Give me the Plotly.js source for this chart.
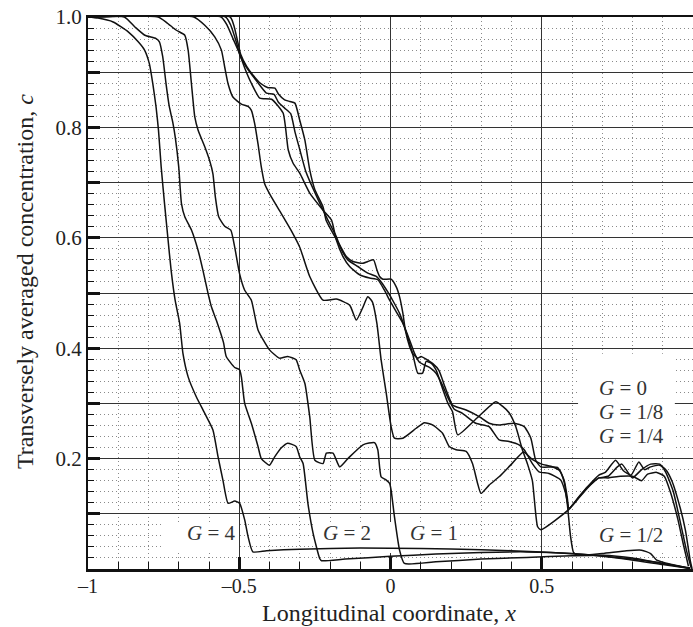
<!DOCTYPE html>
<html>
<head>
<meta charset="utf-8">
<script src="https://cdn.plot.ly/plotly-3.0.1.min.js"></script>
<style>html,body{margin:0;padding:0;background:#fff;}#chart{width:693px;height:627px;}</style>
</head>
<body>
<div id="chart"></div>
<script>
// ---- data ----
const xTickVals = [-1, -0.5, 0, 0.5];
const xTickText = ['\u20131', '\u20130.5', '0', '0.5'];
const yTickVals = [0, 0.1, 0.2, 0.3, 0.4, 0.5, 0.6, 0.7, 0.8, 0.9, 1.0];
const yTickText = ['', '', '0.2', '', '0.4', '', '0.6', '', '0.8', '', '1.0'];

const g4_x = [-1, -0.967, -0.917, -0.867, -0.834, -0.813, -0.797, -0.786, -0.775, -0.767, -0.758, -0.747, -0.736, -0.725, -0.712, -0.697, -0.686, -0.669, -0.642, -0.614, -0.587, -0.570, -0.554, -0.537, -0.515, -0.499, -0.482, -0.471, -0.455, -0.41, -0.3, -0.1, 0.1, 0.3, 0.5, 0.65, 0.8, 0.9, 0.99];
const g4_y = [1.0, 0.998, 0.991, 0.973, 0.955, 0.94, 0.915, 0.88, 0.837, 0.795, 0.728, 0.662, 0.60, 0.54, 0.487, 0.445, 0.39, 0.348, 0.312, 0.282, 0.252, 0.203, 0.161, 0.119, 0.123, 0.119, 0.089, 0.059, 0.031, 0.033, 0.036, 0.038, 0.037, 0.035, 0.031, 0.026, 0.018, 0.01, 0.002];

const g2_x = [-1, -0.88, -0.845, -0.812, -0.775, -0.764, -0.753, -0.742, -0.731, -0.72, -0.711, -0.70, -0.691, -0.68, -0.658, -0.636, -0.62, -0.603, -0.592, -0.576, -0.552, -0.543, -0.515, -0.499, -0.493, -0.482, -0.46, -0.438, -0.427, -0.40, -0.383, -0.36, -0.34, -0.312, -0.30, -0.289, -0.273, -0.256, -0.234, -0.228, -0.15, 0, 0.15, 0.3, 0.45, 0.6, 0.75, 0.9, 0.99];
const g2_y = [1, 1, 0.982, 0.967, 0.961, 0.955, 0.928, 0.879, 0.837, 0.81, 0.78, 0.728, 0.662, 0.638, 0.614, 0.577, 0.541, 0.499, 0.475, 0.451, 0.41, 0.385, 0.365, 0.361, 0.348, 0.30, 0.264, 0.222, 0.20, 0.188, 0.203, 0.22, 0.228, 0.222, 0.203, 0.191, 0.119, 0.065, 0.019, 0.015, 0.018, 0.023, 0.027, 0.03, 0.031, 0.028, 0.02, 0.008, 0.001];

const g1_x = [-1, -0.768, -0.74, -0.708, -0.68, -0.669, -0.658, -0.647, -0.636, -0.614, -0.598, -0.587, -0.579, -0.568, -0.548, -0.528, -0.515, -0.499, -0.482, -0.46, -0.438, -0.40, -0.367, -0.34, -0.312, -0.30, -0.283, -0.267, -0.25, -0.223, -0.212, -0.19, -0.168, -0.141, -0.091, -0.053, -0.042, -0.031, -0.014, -0.003, 0.002, 0.013, 0.03, 0.046, 0.15, 0.3, 0.45, 0.6, 0.7, 0.8, 0.9, 0.99];
const g1_y = [1, 1, 0.99, 0.976, 0.967, 0.94, 0.879, 0.819, 0.795, 0.765, 0.74, 0.716, 0.674, 0.638, 0.621, 0.614, 0.583, 0.535, 0.505, 0.487, 0.433, 0.397, 0.382, 0.385, 0.379, 0.36, 0.336, 0.276, 0.197, 0.191, 0.21, 0.21, 0.185, 0.20, 0.225, 0.229, 0.216, 0.167, 0.161, 0.155, 0.143, 0.095, 0.034, 0.01, 0.013, 0.018, 0.021, 0.024, 0.025, 0.02, 0.01, 0.001];

const gHalf_x = [-1, -0.65, -0.614, -0.581, -0.559, -0.548, -0.537, -0.521, -0.493, -0.471, -0.46, -0.449, -0.438, -0.427, -0.416, -0.394, -0.361, -0.329, -0.30, -0.267, -0.223, -0.179, -0.135, -0.113, -0.093, -0.075, -0.06, -0.045, -0.031, -0.014, 0.002, 0.013, 0.041, 0.085, 0.112, 0.139, 0.172, 0.194, 0.217, 0.25, 0.271, 0.288, 0.299, 0.326, 0.359, 0.40, 0.44, 0.47, 0.50, 0.53, 0.56, 0.575, 0.585, 0.595, 0.605, 0.62, 0.7, 0.78, 0.83, 0.86, 0.88, 0.93, 0.99];
const gHalf_y = [1, 1, 0.985, 0.964, 0.94, 0.909, 0.879, 0.855, 0.842, 0.838, 0.831, 0.807, 0.77, 0.728, 0.698, 0.674, 0.644, 0.614, 0.583, 0.53, 0.487, 0.489, 0.478, 0.451, 0.472, 0.493, 0.484, 0.445, 0.379, 0.318, 0.258, 0.237, 0.237, 0.255, 0.265, 0.261, 0.246, 0.222, 0.216, 0.213, 0.191, 0.155, 0.137, 0.152, 0.167, 0.19, 0.212, 0.198, 0.19, 0.186, 0.178, 0.155, 0.115, 0.06, 0.03, 0.025, 0.028, 0.033, 0.034, 0.028, 0.016, 0.008, 0.001];

const gQuarter_x = [-1, -0.53, -0.518, -0.505, -0.495, -0.475, -0.455, -0.43, -0.405, -0.382, -0.37, -0.35, -0.333, -0.316, -0.30, -0.283, -0.267, -0.25, -0.223, -0.213, -0.19, -0.168, -0.146, -0.124, -0.091, -0.075, -0.056, -0.045, -0.036, -0.025, 0.002, 0.019, 0.03, 0.041, 0.049, 0.063, 0.074, 0.09, 0.106, 0.118, 0.134, 0.151, 0.17, 0.19, 0.205, 0.222, 0.285, 0.348, 0.37, 0.392, 0.414, 0.436, 0.453, 0.469, 0.486, 0.497, 0.59, 0.62, 0.65, 0.689, 0.71, 0.744, 0.77, 0.795, 0.821, 0.84, 0.86, 0.89, 0.91, 0.93, 0.958, 0.975, 0.991, 0.997];
const gQuarter_y = [1, 1, 0.985, 0.955, 0.932, 0.91, 0.895, 0.88, 0.872, 0.871, 0.86, 0.85, 0.847, 0.844, 0.813, 0.777, 0.723, 0.687, 0.656, 0.632, 0.608, 0.587, 0.566, 0.557, 0.554, 0.557, 0.56, 0.542, 0.53, 0.525, 0.525, 0.511, 0.493, 0.463, 0.433, 0.403, 0.388, 0.355, 0.355, 0.376, 0.373, 0.36, 0.33, 0.30, 0.285, 0.243, 0.273, 0.303, 0.295, 0.283, 0.258, 0.216, 0.19, 0.16, 0.077, 0.071, 0.108, 0.128, 0.148, 0.17, 0.175, 0.197, 0.178, 0.17, 0.194, 0.18, 0.185, 0.188, 0.18, 0.16, 0.11, 0.07, 0.015, 0];

const gEighth_x = [-1, -0.545, -0.528, -0.51, -0.497, -0.475, -0.455, -0.43, -0.41, -0.385, -0.37, -0.35, -0.33, -0.315, -0.30, -0.28, -0.265, -0.24, -0.207, -0.179, -0.162, -0.141, -0.108, -0.075, -0.047, -0.031, -0.009, 0.013, 0.03, 0.046, 0.063, 0.074, 0.09, 0.101, 0.118, 0.14, 0.16, 0.18, 0.205, 0.217, 0.25, 0.293, 0.326, 0.359, 0.409, 0.442, 0.464, 0.48, 0.497, 0.552, 0.574, 0.584, 0.59, 0.62, 0.65, 0.689, 0.72, 0.75, 0.765, 0.785, 0.80, 0.83, 0.86, 0.89, 0.91, 0.935, 0.96, 0.98, 0.995];
const gEighth_y = [1, 1, 0.985, 0.955, 0.93, 0.908, 0.893, 0.875, 0.862, 0.86, 0.845, 0.835, 0.825, 0.79, 0.76, 0.72, 0.70, 0.67, 0.632, 0.602, 0.578, 0.56, 0.548, 0.536, 0.53, 0.52, 0.502, 0.481, 0.463, 0.439, 0.409, 0.39, 0.382, 0.385, 0.38, 0.372, 0.36, 0.33, 0.297, 0.294, 0.288, 0.276, 0.264, 0.261, 0.264, 0.258, 0.237, 0.197, 0.185, 0.184, 0.161, 0.131, 0.11, 0.129, 0.148, 0.165, 0.168, 0.185, 0.19, 0.175, 0.165, 0.18, 0.19, 0.19, 0.175, 0.14, 0.08, 0.03, 0.0];

const gZero_x = [-1, -0.56, -0.54, -0.52, -0.50, -0.48, -0.46, -0.432, -0.393, -0.355, -0.338, -0.322, -0.30, -0.267, -0.223, -0.195, -0.179, -0.157, -0.135, -0.102, -0.069, -0.042, -0.02, -0.003, 0.019, 0.041, 0.063, 0.079, 0.095, 0.11, 0.13, 0.15, 0.17, 0.19, 0.21, 0.238, 0.282, 0.326, 0.359, 0.392, 0.425, 0.442, 0.469, 0.491, 0.524, 0.563, 0.579, 0.59, 0.62, 0.65, 0.689, 0.72, 0.76, 0.80, 0.83, 0.85, 0.88, 0.905, 0.925, 0.95, 0.97, 0.985];
const gZero_y = [1, 1, 0.985, 0.96, 0.935, 0.905, 0.88, 0.853, 0.851, 0.826, 0.759, 0.735, 0.717, 0.681, 0.65, 0.632, 0.596, 0.566, 0.548, 0.533, 0.527, 0.524, 0.505, 0.487, 0.466, 0.445, 0.415, 0.391, 0.375, 0.37, 0.365, 0.355, 0.335, 0.31, 0.29, 0.282, 0.264, 0.258, 0.234, 0.231, 0.225, 0.216, 0.191, 0.176, 0.173, 0.161, 0.137, 0.11, 0.127, 0.146, 0.165, 0.165, 0.168, 0.168, 0.16, 0.172, 0.175, 0.168, 0.14, 0.09, 0.04, 0.005];

const seriesNames = ['G = 4', 'G = 2', 'G = 1', 'G = 1/2', 'G = 1/4', 'G = 1/8', 'G = 0'];
const seriesX = [g4_x, g2_x, g1_x, gHalf_x, gQuarter_x, gEighth_x, gZero_x];
const seriesY = [g4_y, g2_y, g1_y, gHalf_y, gQuarter_y, gEighth_y, gZero_y];

// ---- build chart ----
const SERIF = "'Liberation Serif', 'Times New Roman', serif";
const traces = seriesNames.map((n, i) => ({
  type: 'scatter', mode: 'lines', name: n,
  x: seriesX[i], y: seriesY[i],
  line: {color: '#111', width: 1.5, shape: 'spline', smoothing: 0.5},
  hoverinfo: 'skip', showlegend: false
}));

const labelFont = {family: SERIF, size: 21, color: '#333'};
function lab(text, x, y, anchor) {
  return {text: text, x: x, y: y, xref: 'x', yref: 'y', showarrow: false,
          xanchor: anchor || 'center', yanchor: 'middle', font: labelFont, align: 'left'};
}
function box(x0, x1, y0, y1) {
  return {type: 'rect', xref: 'x', yref: 'y', x0: x0, x1: x1, y0: y0, y1: y1,
          fillcolor: '#fff', line: {width: 0}, layer: 'between'};
}

const layout = {
  width: 693, height: 627,
  margin: {l: 88, r: 0, t: 17, b: 58},
  paper_bgcolor: '#fff', plot_bgcolor: '#fff',
  showlegend: false,
  font: {family: SERIF, color: '#222'},
  xaxis: {
    range: [-1, 1], tickmode: 'array', tickvals: xTickVals, ticktext: xTickText,
    ticks: 'inside', ticklen: 12, tickwidth: 3, tickcolor: '#111', ticklabelstandoff: -3,
    showline: true, linewidth: 2.5, linecolor: '#111', mirror: true,
    showgrid: true, gridcolor: '#333', gridwidth: 1, zeroline: false,
    tickfont: {family: SERIF, size: 20, color: '#222'},
    minor: {tickmode: 'linear', tick0: 0, dtick: 0.1, ticks: 'inside', ticklen: 7, tickwidth: 1, tickcolor: '#111',
            showgrid: true, gridcolor: '#8a8a8a', griddash: '1px,3px', gridwidth: 1}
  },
  yaxis: {
    range: [0, 1], tickmode: 'array', tickvals: yTickVals, ticktext: yTickText,
    ticks: 'inside', ticklen: 12, tickwidth: 3, tickcolor: '#111',
    showline: true, linewidth: 2, linecolor: '#111', mirror: false,
    showgrid: true, gridcolor: '#333', gridwidth: 1, zeroline: false,
    tickfont: {family: SERIF, size: 21, color: '#222'},
    minor: {tickmode: 'linear', tick0: 0, dtick: 0.02, ticks: 'inside', ticklen: 6, tickwidth: 1, tickcolor: '#111',
            showgrid: true, gridcolor: '#8a8a8a', griddash: '1px,3px', gridwidth: 1}
  },
  shapes: [
    box(-0.755, -0.505, 0.029, 0.085),
    box(-0.255, 0.228, 0.029, 0.085),
    box(0.62, 0.94, 0.029, 0.085),
    box(0.62, 0.94, 0.21, 0.39)
  ],
  annotations: [
    {text: 'Longitudinal coordinate, <i>x</i>', xref: 'paper', yref: 'paper', x: 0.4975, y: -0.1051,
     xanchor: 'center', yanchor: 'bottom', showarrow: false, borderpad: 0,
     font: {family: SERIF, size: 24, color: '#222'}},
    {text: 'Transversely averaged concentration, <i>c</i>', xref: 'paper', yref: 'paper', x: -0.104, y: 0.52,
     xanchor: 'center', yanchor: 'middle', textangle: -90, showarrow: false,
     font: {family: SERIF, size: 24, color: '#222'}},
    lab('<i>G</i> = 4', -0.593, 0.065),
    lab('<i>G</i> = 2', -0.143, 0.065),
    lab('<i>G</i> = 1', 0.145, 0.065),
    lab('<i>G</i> = 1/2', 0.683, 0.062, 'left'),
    lab('<i>G</i> = 0', 0.683, 0.328, 'left'),
    lab('<i>G</i> = 1/8', 0.683, 0.284, 'left'),
    lab('<i>G</i> = 1/4', 0.683, 0.241, 'left')
  ]
};

Plotly.newPlot('chart', traces, layout, {displayModeBar: false, staticPlot: true});
</script>
</body>
</html>
